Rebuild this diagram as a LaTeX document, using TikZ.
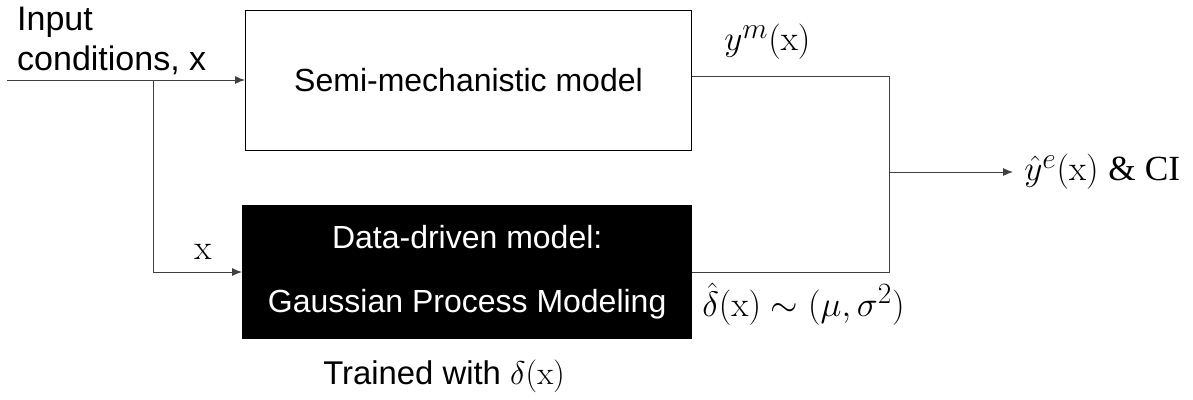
\documentclass[tikz,border=0pt]{standalone}
\usepackage[no-math]{fontspec}
\setmainfont{Liberation Sans}
\newfontfamily\serifm{Liberation Serif}
\usetikzlibrary{arrows.meta}
\begin{document}
\begin{tikzpicture}[x=1pt,y=-1pt,
  conn/.style={draw=black!75,line width=0.9pt},
  arr/.style={conn,-{Latex[length=10pt,width=8pt]}},
  lbl/.style={inner sep=0pt,font=\fontsize{32}{36}\selectfont},
  mlbl/.style={inner sep=0pt,font=\fontsize{24.88}{30}\selectfont,scale=1.42}]
\useasboundingbox (0,0) rectangle (1193,399);
\node[draw,line width=1pt,minimum width=446pt,minimum height=140pt,anchor=north west,lbl] (semi) at (245,10) {Semi-mechanistic model};
\node[fill=black,minimum width=450pt,minimum height=134pt,anchor=north west,lbl,text=white,align=center] (dd) at (242,205) {\raisebox{0pt}[0pt][0pt]{}Data-driven model:\\[28pt]Gaussian Process Modeling};
\node[inner sep=0pt,font=\fontsize{34}{40}\selectfont,anchor=base west,align=left] (inp) at (17,70) {Input\\conditions, x};
\coordinate (start) at (7,80);
\coordinate (split) at (153,80);
\coordinate (corner) at (153,272);
\coordinate (jtop) at (889,76);
\coordinate (jbot) at (889,272);
\coordinate (jmid) at (889,172);
\node[mlbl,anchor=west] (out) at (1024,172) {$\hat{y}^{e}(\mathrm{x})$ {\serifm\&~CI}};
\node[mlbl] (xl) at (203,252) {$\mathrm{x}$};
\node[mlbl,anchor=west] (ym) at (724,42) {$y^{m}(\mathrm{x})$};
\node[mlbl,anchor=west] (dl) at (702,304) {$\hat{\delta}(\mathrm{x}) \sim (\mu,\sigma^{2})$};
\node[mlbl,scale=0.93,anchor=west] (tr) at (323,376) {Trained with $\delta(\mathrm{x})$};
\draw[arr] (start) -- (semi.west |- start);
\draw[arr] (split) -- (corner) -- (dd.west |- corner);
\draw[conn] (semi.east |- jtop) -- (jtop) -- (jbot) -- (dd.east |- jbot);
\draw[arr,shorten >=11pt] (jmid) -- (out.west);
\end{tikzpicture}
\end{document}
